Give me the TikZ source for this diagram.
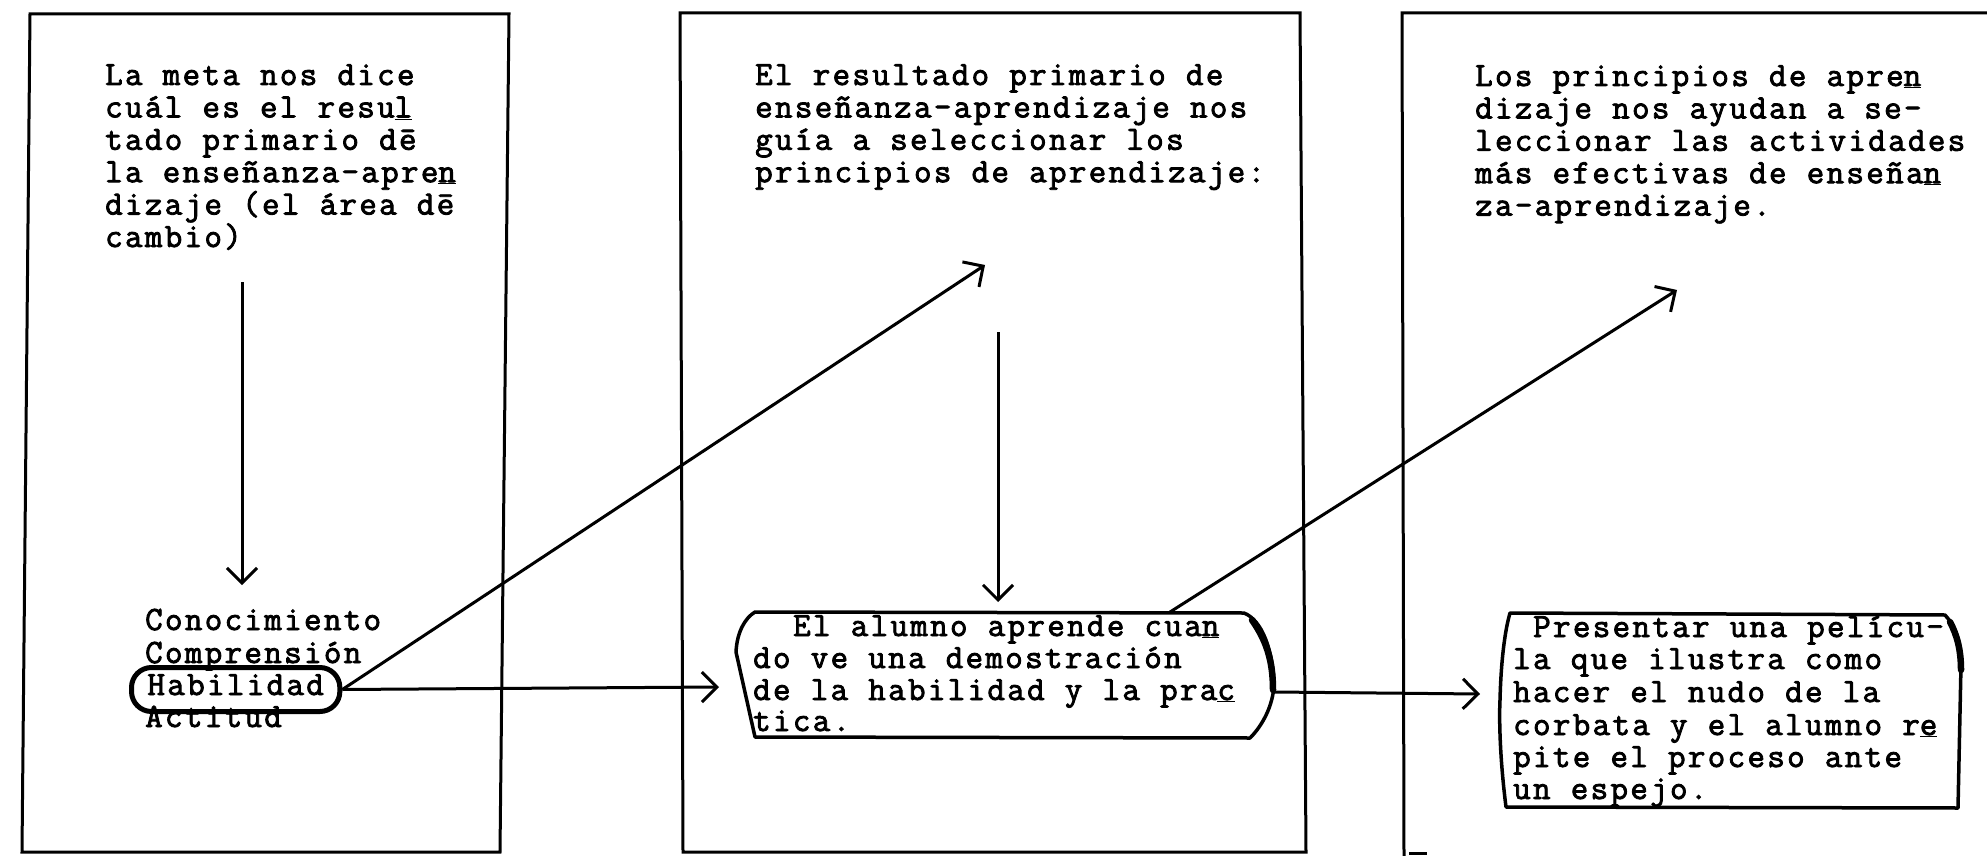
\documentclass[tikz,border=0pt]{standalone}
\usepackage{fontspec}
\newfontfamily\tw{Latin Modern Mono}[LetterSpace=6.9,FakeBold=2.5]
\usetikzlibrary{arrows.meta}
\tikzset{
  panel/.style={line width=3pt, line join=miter},
  ibox/.style={line width=3.5pt, line join=round},
  heavy/.style={line width=6.5pt, line cap=round},
  conn/.style={line width=3pt, -{Straight Barb[length=15pt,width=30pt,line width=3pt]}},
  tline/.style={font={\tw\fontsize{34}{32.4}\selectfont\spaceskip=20.2pt\relax}, inner sep=0pt, anchor=base west},
}
\begin{document}
\begin{tikzpicture}[x=1pt,y=-1pt]
\useasboundingbox (0,0) rectangle (1987,856);
\fill[white] (0,0) rectangle (1987,856);

% panels
\draw[panel] (30,14) -- (509,14) -- (500,852) -- (22,852) -- cycle;
\draw[panel] (680,13) -- (1300,13) -- (1306,852) -- (683,852) -- cycle;
\draw[panel] (1987,13) -- (1402,13) -- (1404,856);
\draw[panel] (1409,853) -- (1427,853);

% panel 1 text
\foreach \t [count=\i from 0] in {La meta nos dice,cuál es el resu\underline{l},tado primario d\=e,la enseñanza-apre\underline{n},dizaje (el área d\=e,cambio)}
  \node[tline] (a\i) at (105,{85+32.4*\i}) {\t};

\node[tline] (con) at (145,630) {Conocimiento};
\node[tline] (com) at (145,663) {Comprensión};
\node[tline, draw, line width=5pt, rounded corners=20pt, inner xsep=16pt, inner ysep=6.5pt, text height=21pt, text depth=10pt] (hab) at (129,695) {Habilidad};
\node[tline] (act) at (145,727) {Actitud};

\coordinate (v1s) at (242,282);
\coordinate (v1e) at (242,585);
\draw[conn] (v1s) -- (v1e);

% panel 2 text
\foreach \t [count=\i from 0] in {El resultado primario de,enseñanza-aprendizaje nos,guía a seleccionar los,principios de aprendizaje:}
  \node[tline] (b\i) at (755,{85+32.4*\i}) {\t};

\coordinate (v2s) at (998,332);
\coordinate (v2e) at (998,602);
\draw[conn] (v2s) -- (v2e);

% inner box 2
\draw[ibox] (755,612) -- (1244,613) .. controls (1262,620) and (1273,650) .. (1274,685)
  .. controls (1273,705) and (1263,725) .. (1250,738) -- (755,737) -- (736,652)
  .. controls (737,632) and (745,618) .. (755,612) -- cycle;
\draw[heavy] (1252,620) .. controls (1266,640) and (1273,660) .. (1273,690);
\node[tline] (c0) at (793,636) {El alumno aprende cua\underline{n}};
\node[tline] (c1) at (753,668) {do ve una demostración};
\node[tline] (c2) at (753,700) {de la habilidad y la pra\underline{c}};
\node[tline] (c3) at (753,731) {tica.};

% connectors from Habilidad
\coordinate (t1) at (719,687);
\coordinate (t2) at (985,265);
\draw[conn] (hab.east) -- (t1);
\draw[conn] (hab.east) -- (t2);

% panel 3 text
\foreach \t [count=\i from 0] in {Los principios de apre\underline{n},dizaje nos ayudan a se-,leccionar las actividades,más efectivas de enseña\underline{n},za-aprendizaje.}
  \node[tline] (d\i) at (1475,{86+32.4*\i}) {\t};

% inner box 3
\draw[ibox] (1510,613) -- (1945,615) .. controls (1955,625) and (1960,645) .. (1961,665)
  -- (1958,808) -- (1506,807) .. controls (1500,760) and (1499,720) .. (1500,700)
  .. controls (1501,660) and (1505,630) .. (1510,613) -- cycle;
\draw[heavy] (1950,622) .. controls (1957,635) and (1961,650) .. (1961,670);
\node[tline] (e0) at (1533,637) {Presentar una pelícu-};
\node[tline] (e1) at (1513,669) {la que ilustra como};
\node[tline] (e2) at (1513,702) {hacer el nudo de la};
\node[tline] (e3) at (1513,735) {corbata y el alumno r\underline{e}};
\node[tline] (e4) at (1513,767) {pite el proceso ante};
\node[tline] (e5) at (1513,799) {un espejo.};

% connectors from inner box 2
\coordinate (ib2e) at (1274,692);
\coordinate (ib2n) at (1170,612);
\coordinate (t3) at (1480,694);
\coordinate (t4) at (1677,290);
\draw[conn] (ib2e) -- (t3);
\draw[conn] (ib2n) -- (t4);
\end{tikzpicture}
\end{document}
